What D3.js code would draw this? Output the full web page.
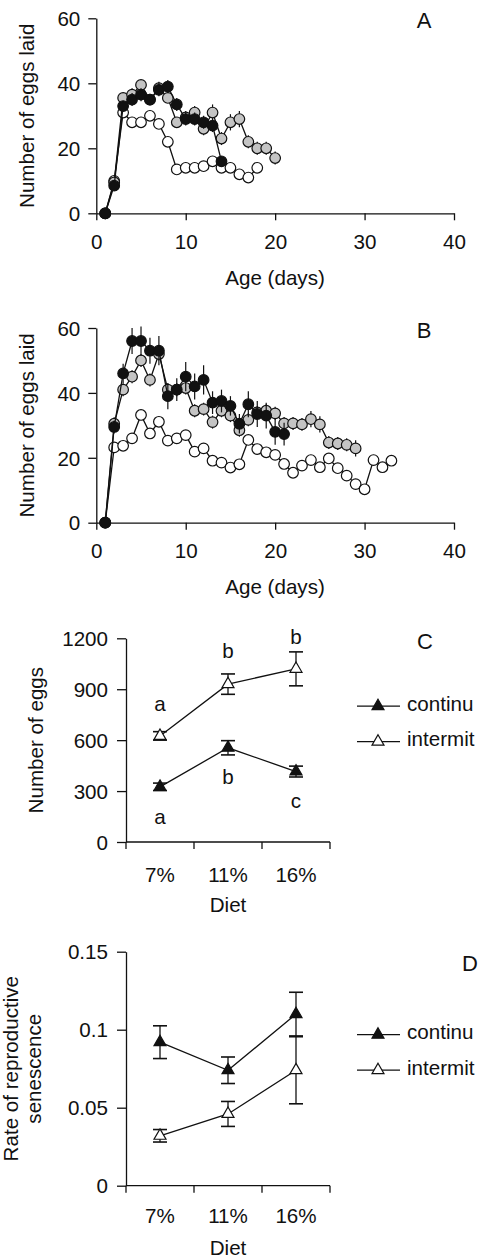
<!DOCTYPE html>
<html lang="en">
<head>
<meta charset="UTF-8">
<script src="https://cdnjs.cloudflare.com/ajax/libs/d3/7.8.5/d3.min.js"></script>
<style>
  body { margin: 0; background: #fff; font-family: 'Liberation Sans', Arial, sans-serif; }
  svg text { font-size: 20.6px; fill: #111; }
</style>
<title>Eggs laid and reproductive senescence</title>
</head>
<body>
<svg id="chart" width="483" height="1259"></svg>
<script>
// A and B: mean eggs laid per day, value i belongs to day i + 1
const eggsA_black = [0, 8.5, 33, 35, 36.5, 35, 38, 39, 33.5, 29, 29, 28, 27, 16];
const errA_black  = [0, 1, 1.5, 2, 2, 1.5, 2, 2, 2, 2, 2, 2, 2, 1.5];
const eggsA_grey  = [0, 9.5, 35.5, 36.5, 39.5, 35, 38.5, 35.5, 28, 29.5, 31, 26, 31, 23, 28, 29, 22, 20, 20, 17];
const errA_grey   = [0, 1, 1.5, 2, 1.5, 1.5, 2, 1.5, 1.5, 2, 2, 2, 2.5, 2, 2.5, 2.5, 2, 2, 2, 2];
const eggsA_white = [0, 10, 31, 28, 28, 30, 27.5, 22, 13.5, 14, 14, 14.5, 16, 14, 14, 12, 11, 14];

const eggsB_black = [0, 29.5, 46, 56, 56, 53, 53, 39, 41, 45, 42, 44, 37, 37.5, 36, 30.5, 36.5, 33.5, 33, 28, 27.3];
const errB_black  = [0, 2, 3, 4, 4.5, 4, 4.5, 4, 3.5, 4.5, 4, 4.5, 3.5, 3.5, 3, 3, 4, 4, 4, 4, 3.5];
const eggsB_grey  = [0, 30.5, 41, 45, 50, 44, 52, 41, 41, 41.5, 34.5, 35, 31, 34.5, 33, 28.5, 31.7, 34, 34.5, 33.7,
                     30.6, 30.6, 30.3, 31.9, 30.3, 24.7, 24.4, 24, 22.9];
const errB_grey   = [0, 2, 2, 2, 2, 2, 2, 2, 2, 2, 2, 2, 2, 2, 2, 2, 2, 2, 2, 2, 2, 2, 2, 2.5, 2.5, 2, 2, 2, 2.5];
const eggsB_white = [0, 23.2, 23.7, 26, 33.2, 27.5, 31.1, 25.3, 26, 27, 21.9, 22.9, 19.1, 18.5, 17, 18, 25.5, 22.7,
                     21.7, 20.9, 18.1, 15.4, 17.6, 19.3, 17.1, 19.8, 16.8, 14.5, 11.9, 10.3, 19.3, 17.1, 19.1];

const ageTicks = [0, 10, 20, 30, 40];
const eggTicks = [0, 20, 40, 60];

// C and D: by diet
const diets = ["7%", "11%", "16%"];
const totalContinu = [325, 555, 415];
const totalContinuErr = [22, 42, 32];
const totalIntermit = [625, 930, 1020];
const totalIntermitErr = [25, 60, 100];
const lettersContinu = ["a", "b", "c"];
const lettersIntermit = ["a", "b", "b"];
const totalTicks = [0, 300, 600, 900, 1200];

const senContinu = [0.092, 0.074, 0.110];
const senContinuErr = [0.0105, 0.0085, 0.014];
const senIntermit = [0.032, 0.046, 0.074];
const senIntermitErr = [0.004, 0.008, 0.0215];
const senTicks = [0, 0.05, 0.1, 0.15];

const legendNames = ["continu", "intermit"];

const svg = d3.select("#chart");
const INK = "#111";

function styleAxis(g) {
  g.attr("font-size", null).attr("font-family", null);
  g.selectAll("path, line").attr("stroke", INK).attr("stroke-width", 1.3);
}

function timePanel(top, bottom, letter, series) {
  const x = d3.scaleLinear().domain([0, 40]).range([96.3, 454]);
  const y = d3.scaleLinear().domain([0, 60]).range([bottom, top]);
  const g = svg.append("g");

  g.append("g").attr("transform", `translate(0,${bottom})`)
    .call(d3.axisBottom(x).tickValues(ageTicks).tickSize(7).tickSizeOuter(0))
    .call(styleAxis)
    .selectAll("text").attr("y", 28).attr("dy", "0.35em");
  g.append("g").attr("transform", `translate(${x(0)},0)`)
    .call(d3.axisLeft(y).tickValues(eggTicks).tickSize(8).tickPadding(8).tickSizeOuter(0))
    .call(styleAxis)
    .selectAll("text").attr("dy", "0.35em");

  g.append("text").attr("x", 275).attr("y", bottom + 64).attr("text-anchor", "middle")
    .attr("dominant-baseline", "central").text("Age (days)");
  g.append("text").attr("transform", `translate(26,${(top + bottom) / 2}) rotate(-90)`)
    .attr("text-anchor", "middle").attr("dominant-baseline", "central").text("Number of eggs laid");
  g.append("text").attr("x", 424).attr("y", top + 2).attr("text-anchor", "middle")
    .attr("dominant-baseline", "central").style("font-size", "22px").text(letter);

  const line = d3.line().x((d, i) => x(i + 1)).y(d => y(d));
  series.forEach(s => {
    const sg = g.append("g");
    if (s.err) {
      sg.selectAll("line.err").data(s.values).join("line").attr("class", "err")
        .attr("x1", (d, i) => x(i + 1)).attr("x2", (d, i) => x(i + 1))
        .attr("y1", (d, i) => y(d - s.err[i])).attr("y2", (d, i) => y(d + s.err[i]))
        .attr("stroke", INK).attr("stroke-width", 1.2);
    }
    sg.append("path").datum(s.values).attr("d", line)
      .attr("fill", "none").attr("stroke", INK).attr("stroke-width", 1.3);
    sg.selectAll("circle").data(s.values).join("circle")
      .attr("cx", (d, i) => x(i + 1)).attr("cy", d => y(d)).attr("r", 5.3)
      .attr("fill", s.fill).attr("stroke", INK).attr("stroke-width", 1.2);
  });
}

const tri = d3.symbol(d3.symbolTriangle, 62);

function dietPanel(top, bottom, ticks, tickFmt, labelOff, yLabel, letter, letterY, cont, contErr, inter, interErr, notes) {
  const x = d3.scaleBand().domain(diets).range([126, 330]).padding(0);
  const y = d3.scaleLinear().domain([ticks[0], ticks[ticks.length - 1]]).range([bottom, top]);
  const g = svg.append("g");
  const cx = d => x(d) + x.bandwidth() / 2;

  // x axis: line with ticks on the band edges, labels at band centres
  const edges = diets.map(d => x(d)).concat([x.range()[1]]);
  g.append("line").attr("x1", 126).attr("x2", 330).attr("y1", bottom).attr("y2", bottom)
    .attr("stroke", INK).attr("stroke-width", 1.3);
  g.selectAll("line.xt").data(edges).join("line").attr("class", "xt")
    .attr("x1", d => d).attr("x2", d => d).attr("y1", bottom).attr("y2", bottom + 7)
    .attr("stroke", INK).attr("stroke-width", 1.3);
  g.selectAll("text.xl").data(diets).join("text").attr("class", "xl")
    .attr("x", cx).attr("y", bottom + labelOff).attr("text-anchor", "middle")
    .attr("dominant-baseline", "central").text(d => d);

  g.append("g").attr("transform", "translate(126,0)")
    .call(d3.axisLeft(y).tickValues(ticks).tickFormat(tickFmt).tickSize(9).tickPadding(9).tickSizeOuter(0))
    .call(styleAxis)
    .selectAll("text").attr("dy", "0.35em");

  g.append("text").attr("x", 228).attr("y", bottom + 62).attr("text-anchor", "middle")
    .attr("dominant-baseline", "central").text("Diet");
  yLabel.forEach((t, i) => {
    g.append("text").attr("transform", `translate(${yLabel.length > 1 ? 10 + i * 23 : 35},${(top + bottom) / 2}) rotate(-90)`)
      .attr("text-anchor", "middle").attr("dominant-baseline", "central").text(t);
  });
  g.append("text").attr("x", letter.x).attr("y", letterY).attr("text-anchor", "middle")
    .attr("dominant-baseline", "central").style("font-size", "22px").text(letter.t);

  const line = d3.line().x((d, i) => cx(diets[i])).y(d => y(d));
  [[cont, contErr, INK], [inter, interErr, "#fff"]].forEach(([vals, errs, fill]) => {
    const sg = g.append("g");
    sg.append("path").datum(vals).attr("d", line).attr("fill", "none").attr("stroke", INK).attr("stroke-width", 1.3);
    vals.forEach((v, i) => {
      const px = cx(diets[i]);
      sg.append("line").attr("x1", px).attr("x2", px).attr("y1", y(v - errs[i])).attr("y2", y(v + errs[i]))
        .attr("stroke", INK).attr("stroke-width", 1.3);
      [v - errs[i], v + errs[i]].forEach(e => {
        sg.append("line").attr("x1", px - 7).attr("x2", px + 7).attr("y1", y(e)).attr("y2", y(e))
          .attr("stroke", INK).attr("stroke-width", 1.6);
      });
    });
    sg.selectAll("path.mk").data(vals).join("path").attr("class", "mk")
      .attr("transform", (d, i) => `translate(${cx(diets[i])},${y(d)})`).attr("d", tri)
      .attr("fill", fill).attr("stroke", INK).attr("stroke-width", 1.2);
  });

  if (notes) {
    notes.intermit.forEach((t, i) => {
      g.append("text").attr("x", cx(diets[i])).attr("y", y(inter[i] + interErr[i]) - notes.upOff[i])
        .attr("text-anchor", "middle").attr("dominant-baseline", "central").text(t);
    });
    notes.continu.forEach((t, i) => {
      g.append("text").attr("x", cx(diets[i])).attr("y", y(cont[i] - contErr[i]) + notes.downOff[i])
        .attr("text-anchor", "middle").attr("dominant-baseline", "central").text(t);
    });
  }

  // legend
  const legY = (top + bottom) / 2 - 34;
  legendNames.forEach((name, i) => {
    const ly = legY + i * 35.5;
    g.append("line").attr("x1", 357).attr("x2", 400).attr("y1", ly).attr("y2", ly)
      .attr("stroke", INK).attr("stroke-width", 1.3);
    g.append("path").attr("transform", `translate(378,${ly})`).attr("d", tri)
      .attr("fill", i === 0 ? INK : "#fff").attr("stroke", INK).attr("stroke-width", 1.2);
    g.append("text").attr("x", 407).attr("y", ly - 3).attr("dominant-baseline", "central").text(name);
  });
}

timePanel(18.3, 213.3, "A", [
  { values: eggsA_white, fill: "#fff" },
  { values: eggsA_grey, err: errA_grey, fill: "#c4c4c4" },
  { values: eggsA_black, err: errA_black, fill: INK }
]);
timePanel(328, 522.7, "B", [
  { values: eggsB_white, fill: "#fff" },
  { values: eggsB_grey, err: errB_grey, fill: "#c4c4c4" },
  { values: eggsB_black, err: errB_black, fill: INK }
]);

dietPanel(638.3, 842, totalTicks, d => d, 32, ["Number of eggs"], { x: 425, t: "C" }, 641,
  totalContinu, totalContinuErr, totalIntermit, totalIntermitErr,
  { intermit: lettersIntermit, continu: lettersContinu, upOff: [28, 23, 15], downOff: [26, 22, 24] });

dietPanel(951.7, 1185.7, senTicks, d => d === 0 ? "0" : String(d), 29.5,
  ["Rate of reproductive", "senescence"], { x: 470, t: "D" }, 963,
  senContinu, senContinuErr, senIntermit, senIntermitErr, null);
</script>
</body>
</html>
